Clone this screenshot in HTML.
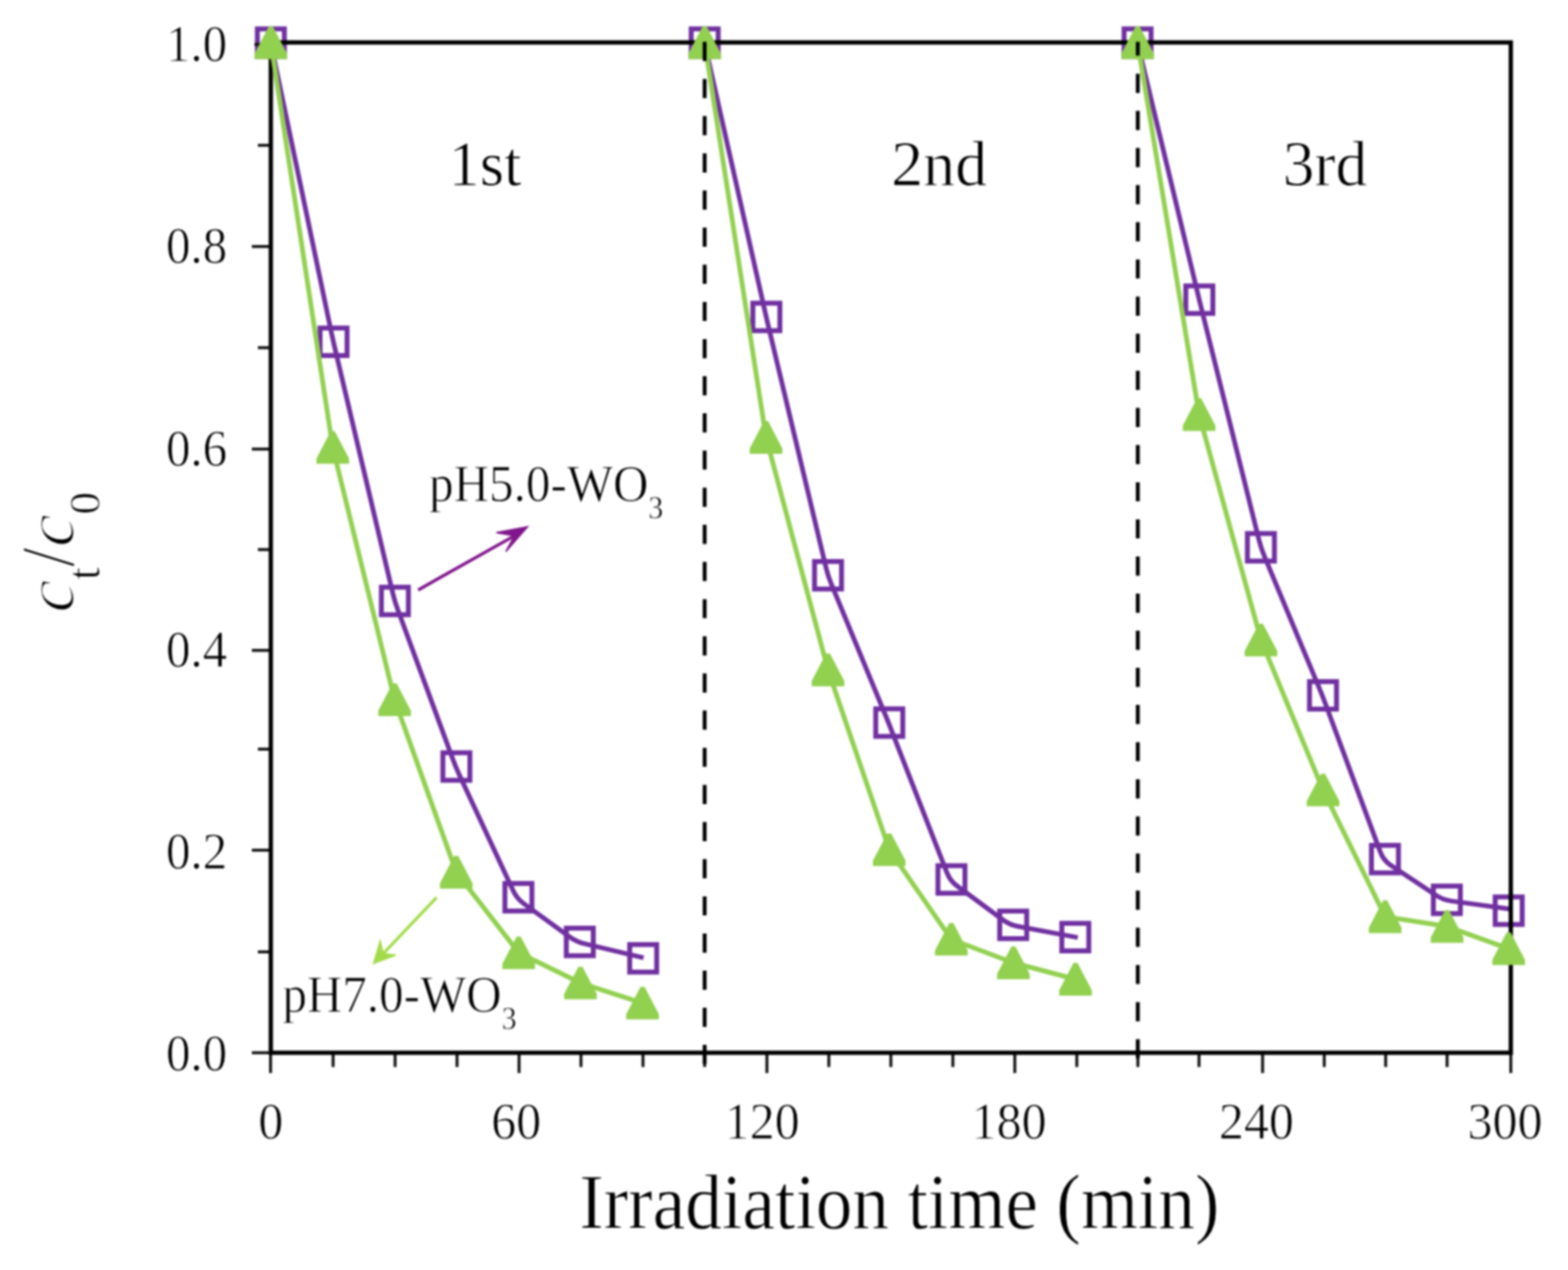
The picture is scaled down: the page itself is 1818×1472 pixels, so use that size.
<!DOCTYPE html>
<html lang="en"><head><meta charset="utf-8"><title>Irradiation time chart</title>
<style>
html,body{margin:0;padding:0;background:#fff;}
body{width:1818px;height:1472px;overflow:hidden;}
svg{display:block;filter:blur(0.8px);}
text{font-family:"Liberation Serif","Times New Roman",serif;fill:#000;stroke:#fff;stroke-width:0.9px;stroke-linejoin:round;}
.tk{font-size:62px;}
.an{font-size:61.5px;}
.cy{font-size:73.5px;}
.ti{font-size:90px;}
</style></head><body>
<svg width="1818" height="1472" viewBox="0 0 1818 1472" role="img" aria-label="Photocatalytic cycling chart: ct/c0 versus irradiation time">
<rect width="1818" height="1472" fill="#fff"/>
<path d="M314.0 50.0 L384.6 387.2 Q386.7 397.0 389.0 406.7 L455.5 687.8 Q457.8 697.5 461.3 706.9 L525.1 880.1 Q528.6 889.5 532.8 898.6 L595.0 1032.4 Q599.2 1041.5 607.3 1047.4 L660.2 1085.7 Q668.3 1091.6 678.0 1093.9 L746.2 1110.2" fill="none" stroke="#7030A0" stroke-width="5.5" stroke-linejoin="round"/>
<path d="M817.0 50.0 L886.3 358.2 Q888.5 368.0 890.8 377.7 L957.7 657.8 Q960.0 667.5 963.8 676.7 L1026.8 829.4 Q1030.6 838.6 1034.2 847.9 L1097.9 1011.5 Q1101.5 1020.8 1109.5 1026.8 L1162.6 1066.0 Q1170.6 1072.0 1180.4 1073.8 L1249.6 1086.6" fill="none" stroke="#7030A0" stroke-width="5.5" stroke-linejoin="round"/>
<path d="M1319.0 50.0 L1388.3 338.3 Q1390.6 348.0 1393.0 357.7 L1459.6 625.3 Q1462.0 635.0 1465.8 644.2 L1529.7 797.8 Q1533.5 807.0 1537.0 816.4 L1600.5 987.8 Q1604.0 997.2 1612.3 1002.7 L1664.7 1037.5 Q1673.0 1043.0 1682.9 1044.4 L1753.5 1054.0" fill="none" stroke="#7030A0" stroke-width="5.5" stroke-linejoin="round"/>
<rect x="298.4" y="33.5" width="31.3" height="31.9" fill="none" stroke="#7030A0" stroke-width="5.7"/>
<rect x="371.1" y="380.2" width="31.3" height="31.9" fill="none" stroke="#7030A0" stroke-width="5.7"/>
<rect x="442.2" y="680.6" width="31.3" height="31.9" fill="none" stroke="#7030A0" stroke-width="5.7"/>
<rect x="513.5" y="872.5" width="31.3" height="31.9" fill="none" stroke="#7030A0" stroke-width="5.7"/>
<rect x="585.4" y="1024.0" width="31.3" height="31.9" fill="none" stroke="#7030A0" stroke-width="5.7"/>
<rect x="656.6" y="1075.8" width="31.3" height="31.9" fill="none" stroke="#7030A0" stroke-width="5.7"/>
<rect x="730.1" y="1094.8" width="31.3" height="31.9" fill="none" stroke="#7030A0" stroke-width="5.7"/>
<rect x="801.4" y="33.5" width="31.3" height="31.9" fill="none" stroke="#7030A0" stroke-width="5.7"/>
<rect x="872.9" y="351.4" width="31.3" height="31.9" fill="none" stroke="#7030A0" stroke-width="5.7"/>
<rect x="944.4" y="650.8" width="31.3" height="31.9" fill="none" stroke="#7030A0" stroke-width="5.7"/>
<rect x="1015.4" y="821.6" width="31.3" height="31.9" fill="none" stroke="#7030A0" stroke-width="5.7"/>
<rect x="1087.5" y="1003.4" width="31.3" height="31.9" fill="none" stroke="#7030A0" stroke-width="5.7"/>
<rect x="1159.1" y="1056.0" width="31.3" height="31.9" fill="none" stroke="#7030A0" stroke-width="5.7"/>
<rect x="1231.1" y="1070.2" width="31.3" height="31.9" fill="none" stroke="#7030A0" stroke-width="5.7"/>
<rect x="1303.3" y="33.5" width="31.3" height="31.9" fill="none" stroke="#7030A0" stroke-width="5.7"/>
<rect x="1374.9" y="331.4" width="31.3" height="31.9" fill="none" stroke="#7030A0" stroke-width="5.7"/>
<rect x="1446.3" y="618.4" width="31.3" height="31.9" fill="none" stroke="#7030A0" stroke-width="5.7"/>
<rect x="1518.3" y="790.0" width="31.3" height="31.9" fill="none" stroke="#7030A0" stroke-width="5.7"/>
<rect x="1590.1" y="979.8" width="31.3" height="31.9" fill="none" stroke="#7030A0" stroke-width="5.7"/>
<rect x="1661.9" y="1027.0" width="31.3" height="31.9" fill="none" stroke="#7030A0" stroke-width="5.7"/>
<rect x="1733.6" y="1039.6" width="31.3" height="31.9" fill="none" stroke="#7030A0" stroke-width="5.7"/>
<g stroke="#111" stroke-width="3.4" fill="none">
<line x1="313.7" y1="1220.2" x2="313.7" y2="1243.7"/>
<line x1="386.2" y1="1220.2" x2="386.2" y2="1236.7"/>
<line x1="458.1" y1="1220.2" x2="458.1" y2="1236.7"/>
<line x1="529.9" y1="1220.2" x2="529.9" y2="1236.7"/>
<line x1="601.8" y1="1220.2" x2="601.8" y2="1243.7"/>
<line x1="673.6" y1="1220.2" x2="673.6" y2="1236.7"/>
<line x1="745.5" y1="1220.2" x2="745.5" y2="1236.7"/>
<line x1="817.0" y1="1220.2" x2="817.0" y2="1236.7"/>
<line x1="889.2" y1="1220.2" x2="889.2" y2="1243.7"/>
<line x1="961.0" y1="1220.2" x2="961.0" y2="1236.7"/>
<line x1="1032.9" y1="1220.2" x2="1032.9" y2="1236.7"/>
<line x1="1104.8" y1="1220.2" x2="1104.8" y2="1236.7"/>
<line x1="1176.6" y1="1220.2" x2="1176.6" y2="1243.7"/>
<line x1="1248.5" y1="1220.2" x2="1248.5" y2="1236.7"/>
<line x1="1319.3" y1="1220.2" x2="1319.3" y2="1236.7"/>
<line x1="1390.2" y1="1220.2" x2="1390.2" y2="1236.7"/>
<line x1="1463.9" y1="1220.2" x2="1463.9" y2="1243.7"/>
<line x1="1535.4" y1="1220.2" x2="1535.4" y2="1236.7"/>
<line x1="1606.6" y1="1220.2" x2="1606.6" y2="1236.7"/>
<line x1="1677.8" y1="1220.2" x2="1677.8" y2="1236.7"/>
<line x1="1751.7" y1="1220.2" x2="1751.7" y2="1243.7"/>
<line x1="292.0" y1="1220.2" x2="314.0" y2="1220.2"/>
<line x1="299.0" y1="1103.3" x2="314.0" y2="1103.3"/>
<line x1="292.0" y1="985.4" x2="314.0" y2="985.4"/>
<line x1="299.0" y1="868.3" x2="314.0" y2="868.3"/>
<line x1="292.0" y1="753.8" x2="314.0" y2="753.8"/>
<line x1="299.0" y1="637.0" x2="314.0" y2="637.0"/>
<line x1="292.0" y1="520.5" x2="314.0" y2="520.5"/>
<line x1="299.0" y1="403.0" x2="314.0" y2="403.0"/>
<line x1="292.0" y1="285.7" x2="314.0" y2="285.7"/>
<line x1="299.0" y1="168.4" x2="314.0" y2="168.4"/>
<line x1="295.0" y1="51.5" x2="314.0" y2="51.5"/>
</g>
<rect x="314.0" y="49.2" width="1437.7" height="1171.0" fill="none" stroke="#000" stroke-width="5.0"/>
<text class="tk" transform="translate(313.9 1320.4) scale(0.935 1)" text-anchor="middle">0</text>
<text class="tk" transform="translate(598.6 1320.4) scale(0.935 1)" text-anchor="middle">60</text>
<text class="tk" transform="translate(883.8 1320.4) scale(0.935 1)" text-anchor="middle">120</text>
<text class="tk" transform="translate(1170.0 1320.4) scale(0.935 1)" text-anchor="middle">180</text>
<text class="tk" transform="translate(1456.8 1320.4) scale(0.935 1)" text-anchor="middle">240</text>
<text class="tk" transform="translate(1744.9 1320.4) scale(0.935 1)" text-anchor="middle">300</text>
<text class="tk" transform="translate(263.4 1241.1) scale(0.915 1)" text-anchor="end">0.0</text>
<text class="tk" transform="translate(263.4 1007.2) scale(0.915 1)" text-anchor="end">0.2</text>
<text class="tk" transform="translate(263.4 773.4) scale(0.915 1)" text-anchor="end">0.4</text>
<text class="tk" transform="translate(263.4 539.6) scale(0.915 1)" text-anchor="end">0.6</text>
<text class="tk" transform="translate(263.4 305.1) scale(0.915 1)" text-anchor="end">0.8</text>
<text class="tk" transform="translate(263.4 71.0) scale(0.915 1)" text-anchor="end">1.0</text>
<text class="cy" transform="translate(562.3 215.2) scale(0.985 1)" text-anchor="middle">1st</text>
<text class="cy" transform="translate(1088.9 215.2) scale(1.010 1)" text-anchor="middle">2nd</text>
<text class="cy" transform="translate(1536.3 215.2) scale(1.000 1)" text-anchor="middle">3rd</text>
<path d="M314.0 49.5 L385.8 518.6 L457.5 811.0 L529.0 1011.0 L601.4 1104.3 L673.0 1139.3 L745.0 1162.7" fill="none" stroke="#92D050" stroke-width="5.5" stroke-linejoin="round"/>
<path d="M817.0 49.5 L888.2 507.0 L960.0 776.5 L1031.0 984.8 L1103.0 1088.7 L1175.0 1116.0 L1247.0 1135.0" fill="none" stroke="#92D050" stroke-width="5.5" stroke-linejoin="round"/>
<path d="M1319.0 49.5 L1390.3 480.5 L1462.0 741.8 L1534.0 915.7 L1606.0 1062.5 L1677.8 1073.8 L1749.2 1099.6" fill="none" stroke="#92D050" stroke-width="5.5" stroke-linejoin="round"/>
<path d="M311.7 30.6 L316.3 30.6 L332.9 62.3 L332.9 68.4 L295.1 68.4 L295.1 62.3 Z" fill="#92D050"/>
<path d="M383.5 499.7 L388.1 499.7 L404.7 531.4 L404.7 537.5 L366.9 537.5 L366.9 531.4 Z" fill="#92D050"/>
<path d="M455.2 792.1 L459.8 792.1 L476.4 823.8 L476.4 829.9 L438.6 829.9 L438.6 823.8 Z" fill="#92D050"/>
<path d="M526.7 992.1 L531.3 992.1 L547.9 1023.8 L547.9 1029.9 L510.1 1029.9 L510.1 1023.8 Z" fill="#92D050"/>
<path d="M599.1 1085.4 L603.7 1085.4 L620.3 1117.1 L620.3 1123.2 L582.5 1123.2 L582.5 1117.1 Z" fill="#92D050"/>
<path d="M670.7 1120.4 L675.3 1120.4 L691.9 1152.1 L691.9 1158.2 L654.1 1158.2 L654.1 1152.1 Z" fill="#92D050"/>
<path d="M742.7 1143.8 L747.3 1143.8 L763.9 1175.5 L763.9 1181.6 L726.1 1181.6 L726.1 1175.5 Z" fill="#92D050"/>
<path d="M814.7 30.6 L819.3 30.6 L835.9 62.3 L835.9 68.4 L798.1 68.4 L798.1 62.3 Z" fill="#92D050"/>
<path d="M885.9 488.1 L890.5 488.1 L907.1 519.8 L907.1 525.9 L869.3 525.9 L869.3 519.8 Z" fill="#92D050"/>
<path d="M957.7 757.6 L962.3 757.6 L978.9 789.3 L978.9 795.4 L941.1 795.4 L941.1 789.3 Z" fill="#92D050"/>
<path d="M1028.7 965.9 L1033.3 965.9 L1049.9 997.6 L1049.9 1003.7 L1012.1 1003.7 L1012.1 997.6 Z" fill="#92D050"/>
<path d="M1100.7 1069.8 L1105.3 1069.8 L1121.9 1101.5 L1121.9 1107.6 L1084.1 1107.6 L1084.1 1101.5 Z" fill="#92D050"/>
<path d="M1172.7 1097.1 L1177.3 1097.1 L1193.9 1128.8 L1193.9 1134.9 L1156.1 1134.9 L1156.1 1128.8 Z" fill="#92D050"/>
<path d="M1244.7 1116.1 L1249.3 1116.1 L1265.9 1147.8 L1265.9 1153.9 L1228.1 1153.9 L1228.1 1147.8 Z" fill="#92D050"/>
<path d="M1316.7 30.6 L1321.3 30.6 L1337.9 62.3 L1337.9 68.4 L1300.1 68.4 L1300.1 62.3 Z" fill="#92D050"/>
<path d="M1388.0 461.6 L1392.6 461.6 L1409.2 493.3 L1409.2 499.4 L1371.4 499.4 L1371.4 493.3 Z" fill="#92D050"/>
<path d="M1459.7 722.9 L1464.3 722.9 L1480.9 754.6 L1480.9 760.7 L1443.1 760.7 L1443.1 754.6 Z" fill="#92D050"/>
<path d="M1531.7 896.8 L1536.3 896.8 L1552.9 928.5 L1552.9 934.6 L1515.1 934.6 L1515.1 928.5 Z" fill="#92D050"/>
<path d="M1603.7 1043.6 L1608.3 1043.6 L1624.9 1075.3 L1624.9 1081.4 L1587.1 1081.4 L1587.1 1075.3 Z" fill="#92D050"/>
<path d="M1675.5 1054.9 L1680.1 1054.9 L1696.7 1086.6 L1696.7 1092.7 L1658.9 1092.7 L1658.9 1086.6 Z" fill="#92D050"/>
<path d="M1746.9 1080.7 L1751.5 1080.7 L1768.1 1112.4 L1768.1 1118.5 L1730.3 1118.5 L1730.3 1112.4 Z" fill="#92D050"/>
<line x1="817.0" y1="48.5" x2="817.0" y2="1236.7" stroke="#000" stroke-width="4.5" stroke-dasharray="22.2 20.86"/>
<line x1="1319.2" y1="48.5" x2="1319.2" y2="1236.7" stroke="#000" stroke-width="4.5" stroke-dasharray="22.2 20.84" stroke-dashoffset="6.1"/>
<text class="an" transform="translate(497.6 581.4) scale(0.925 1)" text-anchor="start">pH5.0-WO<tspan font-size="37" dy="19.5" stroke-width="0.45">3</tspan></text>
<text class="an" transform="translate(327.4 1173.3) scale(0.925 1)" text-anchor="start">pH7.0-WO<tspan font-size="37" dy="19.5" stroke-width="0.45">3</tspan></text>
<g fill="#80168C" stroke="#80168C" stroke-width="1.6" stroke-linejoin="miter"><path d="M485.7 685.4 L597.4 622.6 L595.6 619.4 L483.9 682.2 Z" stroke="none"/><path d="M611.6 610.6 L575.6 617.4 L596.5 621.0 L586.4 639.4 Z"/></g>
<g fill="#A3DB4A" stroke="#A3DB4A" stroke-width="1.6" stroke-linejoin="miter"><path d="M504.9 1039.0 L442.9 1104.2 L445.5 1106.6 L507.5 1041.4 Z" stroke="none"/><path d="M433.2 1116.8 L440.8 1090.6 L444.2 1105.4 L458.8 1107.0 Z"/></g>
<text class="ti" transform="translate(1042.8 1424.2) scale(0.946 1)" text-anchor="middle">Irradiation time (min)</text>
<g transform="translate(84.6 0) rotate(-90)">
<text transform="translate(-710.3 0.6) scale(1.080 1)" style="font-size:80.5px;stroke-width:2.2px;font-style:italic">c</text>
<text transform="translate(-672.0 30.5) scale(0.950 1)" style="font-size:55.0px;stroke-width:0.9px">t</text>
<text transform="translate(-657.0 0.0) scale(0.900 1)" style="font-size:89.0px;stroke-width:1.4px">/</text>
<text transform="translate(-634.3 0.6) scale(1.080 1)" style="font-size:80.5px;stroke-width:2.2px;font-style:italic">c</text>
<text transform="translate(-596.6 30.3) scale(1.030 1)" style="font-size:51.5px;stroke-width:0.9px">0</text>
</g>
</svg>
</body></html>
